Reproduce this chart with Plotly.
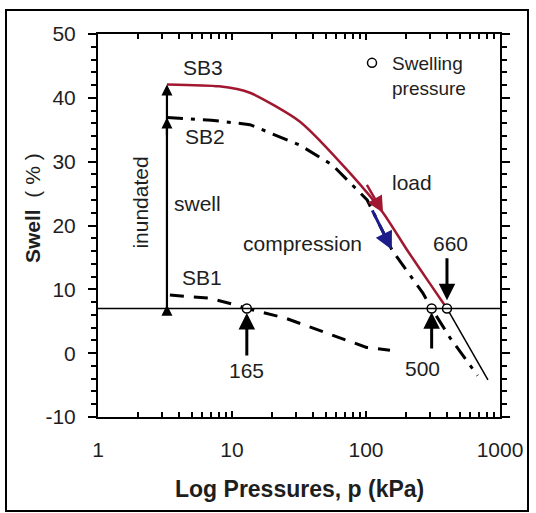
import numpy as np
import plotly.graph_objects as go

# ---- data ----
sb3_p = [3.27, 8, 13.6, 32, 76, 134, 202, 300, 402]
sb3_s = [42.1, 41.8, 40.8, 36.3, 28.2, 22.0, 16.2, 10.9, 7.0]
sb3_tail_p = [402, 813]
sb3_tail_s = [7.0, -4.2]

sb2_p = [3.27, 7, 13.6, 32, 56, 102, 156, 266, 309, 424, 680]
sb2_s = [36.9, 36.5, 35.8, 32.6, 29.5, 24.0, 16.2, 9.4, 7.0, 2.4, -3.5]

sb1_p = [3.44, 6.85, 10.9, 12.9, 24.9, 38.2, 60.7, 101, 151]
sb1_s = [9.1, 8.6, 7.5, 7.0, 5.5, 4.1, 2.5, 0.9, 0.45]

swell_p = [12.9, 309, 402]          # swelling-pressure points
swell_s = [7.0, 7.0, 7.0]
swell_labels = ["165", "500", "660"]

ref_level = 7.0
inund_p = 3.27
inund_heads = [42.1, 36.9, 7.0]

x_ticks = [1, 10, 100, 1000]
y_ticks = [-10, 0, 10, 20, 30, 40, 50]
y_range = [-10, 50]

FONT = "Liberation Sans, Arial, sans-serif"
RED = "#a01830"
BLUE = "#1c1c8a"
TXT = "#1e1e1e"

L = np.log10

fig = go.Figure()

fig.add_trace(go.Scatter(x=sb1_p, y=sb1_s, mode="lines", showlegend=False,
                         line=dict(color="black", width=3, dash="14px,10px")))
fig.add_trace(go.Scatter(x=sb2_p, y=sb2_s, mode="lines", showlegend=False,
                         line=dict(color="black", width=3, dash="16px,8px,4px,8px")))
fig.add_trace(go.Scatter(x=sb3_p, y=sb3_s, mode="lines", showlegend=False,
                         line=dict(color=RED, width=2.5, shape="spline", smoothing=0.6)))
fig.add_trace(go.Scatter(x=sb3_tail_p, y=sb3_tail_s, mode="lines", showlegend=False,
                         line=dict(color="black", width=1.5)))
fig.add_trace(go.Scatter(x=swell_p, y=swell_s, mode="markers", name="Swelling<br>pressure",
                         marker=dict(symbol="circle", size=9, color="white",
                                     line=dict(color="black", width=1.5))))

# reference line
fig.add_shape(type="line", xref="paper", x0=0, x1=1, yref="y", y0=ref_level, y1=ref_level,
              line=dict(color="black", width=1.5))

ann = []
# inundated swell arrow with heads
ann.append(dict(x=L(inund_p), y=inund_heads[0], ax=L(inund_p), ay=ref_level,
                xref="x", yref="y", axref="x", ayref="y", text="", showarrow=True,
                arrowhead=2, arrowsize=1, arrowwidth=2.2, arrowcolor="black"))
ann.append(dict(x=L(inund_p), y=inund_heads[1], ax=L(inund_p), ay=inund_heads[1] - 3,
                xref="x", yref="y", axref="x", ayref="y", text="", showarrow=True,
                arrowhead=2, arrowsize=1, arrowwidth=2.2, arrowcolor="black"))
ann.append(dict(x=L(inund_p), y=inund_heads[2] + 0.6, ax=L(inund_p), ay=inund_heads[2] - 0.5,
                xref="x", yref="y", axref="x", ayref="y", text="", showarrow=True,
                arrowhead=2, arrowsize=1, arrowwidth=2.2, arrowcolor="black"))

# load / compression arrows
ann.append(dict(x=L(134), y=22.0, ax=L(100), ay=26.6, xref="x", yref="y", axref="x", ayref="y",
                text="", showarrow=True, arrowhead=2, arrowsize=1.3, arrowwidth=2.5, arrowcolor=RED))
ann.append(dict(x=L(156), y=16.2, ax=L(110), ay=22.6, xref="x", yref="y", axref="x", ayref="y",
                text="", showarrow=True, arrowhead=2, arrowsize=1.2, arrowwidth=3, arrowcolor=BLUE))

# swelling pressure arrows + labels
arrow_spec = [(12.9, -0.6, 6.3), (309, 0.5, 6.4), (402, 15.1, 8.3)]
for (p, y0, y1) in arrow_spec:
    ann.append(dict(x=L(p), y=y1, ax=L(p), ay=y0, xref="x", yref="y", axref="x", ayref="y",
                    text="", showarrow=True, arrowhead=2, arrowsize=1.1, arrowwidth=3,
                    arrowcolor="black"))
lab_pos = [(12.9, -2.67), (266, -2.35), (424, 17.2)]
for (p, y), lab in zip(lab_pos, swell_labels):
    ann.append(dict(x=L(p), y=y, xref="x", yref="y", text=lab, showarrow=False,
                    xanchor="center", yanchor="middle",
                    font=dict(family=FONT, size=21, color=TXT)))

texts = [("SB3", 6.08, 44.7, 0), ("SB2", 6.3, 34.0, 0), ("SB1", 5.97, 11.8, 0),
         ("swell", 5.5, 23.5, 0), ("inundated", 2.06, 23.6, -90),
         ("load", 220, 26.7, 0), ("compression", 33.8, 17.2, 0)]
for t, p, y, ang in texts:
    ann.append(dict(x=L(p), y=y, xref="x", yref="y", text=t, showarrow=False, textangle=ang,
                    xanchor="center", yanchor="middle",
                    font=dict(family=FONT, size=21, color=TXT)))

# axis titles
ann.append(dict(x=(299 - 98) / 402, y=(417 - 489) / 383, xref="paper", yref="paper",
                text="<b>Log Pressures, p (kPa)</b>", showarrow=False,
                xanchor="center", yanchor="middle",
                font=dict(family=FONT, size=23, color=TXT)))
ann.append(dict(x=(32 - 98) / 402, y=(417 - 208) / 383, xref="paper", yref="paper",
                text="<b>Swell</b>  ( % )", showarrow=False, textangle=-90,
                xanchor="center", yanchor="middle",
                font=dict(family=FONT, size=21, color=TXT)))

fig.update_layout(
    width=536, height=513,
    margin=dict(l=98, r=36, t=34, b=96),
    paper_bgcolor="white", plot_bgcolor="white",
    annotations=ann,
    showlegend=True,
    legend=dict(x=(352 - 98) / 402, y=(417 - 44) / 383, xanchor="left", yanchor="top",
                bgcolor="rgba(0,0,0,0)", valign="top",
                font=dict(family=FONT, size=19, color=TXT)),
    shapes=list(fig.layout.shapes) + [dict(type="rect", xref="paper", yref="paper",
                x0=(6 - 98) / 402, x1=(528 - 98) / 402, y0=(417 - 511) / 383, y1=(417 - 10) / 383,
                line=dict(color="black", width=2))],
)

minor_x = [m * 10 ** k for k in range(3) for m in range(2, 10)]
fig.update_xaxes(type="log", range=[0, 3], tickvals=x_ticks, ticktext=[str(v) for v in x_ticks],
                 ticks="inside", ticklen=6, tickwidth=1.5, tickcolor="black",
                 minor=dict(tickvals=minor_x, ticks="inside", ticklen=5, tickcolor="black", tickwidth=1.5),
                 showline=True, linecolor="black", linewidth=2, mirror="allticks",
                 showgrid=False, zeroline=False, ticklabelstandoff=13,
                 tickfont=dict(family=FONT, size=21, color=TXT))
fig.update_yaxes(range=y_range, tickvals=y_ticks, ticktext=[str(v) for v in y_ticks],
                 ticks="outside", ticklen=8, tickwidth=1.5, tickcolor="black",
                 minor=dict(dtick=2, ticks="outside", ticklen=5, tickcolor="black", tickwidth=1.5),
                 showline=True, linecolor="black", linewidth=2, mirror="allticks",
                 showgrid=False, zeroline=False, ticklabelstandoff=8,
                 tickfont=dict(family=FONT, size=21, color=TXT))

fig.write_html("out.html", config={"displayModeBar": False},
               post_script="document.body.style.margin='0px';document.body.style.overflow='hidden';")
